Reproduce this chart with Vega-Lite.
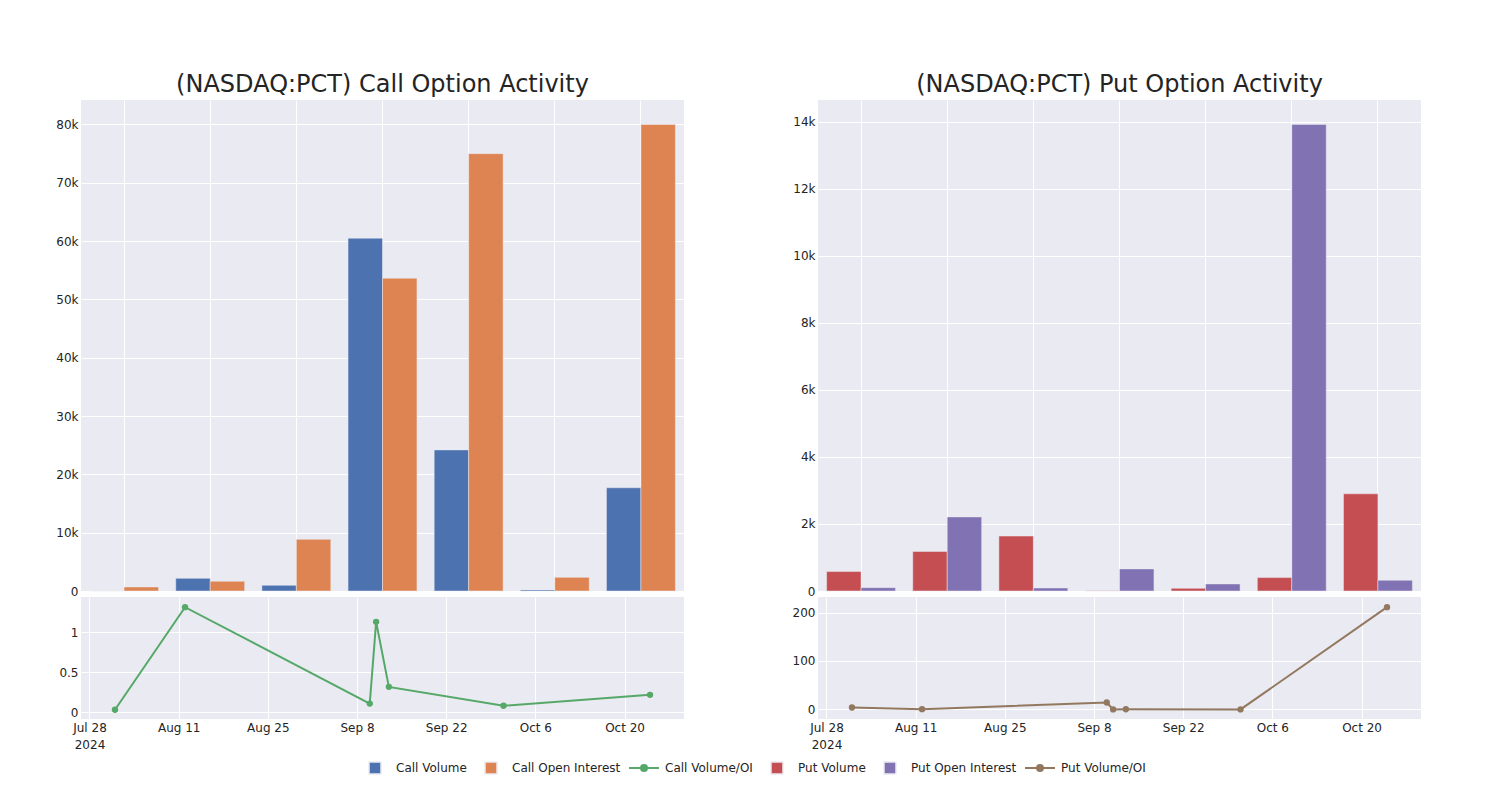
{
  "$schema": "https://vega.github.io/schema/vega-lite/v6.json",
  "background": "white",
  "padding": {"left": 55, "top": 73, "right": 10, "bottom": 10},
  "config": {
    "font": "DejaVu Sans",
    "view": {"fill": "#EAEAF2", "stroke": null},
    "axis": {"gridColor": "white", "gridWidth": 1, "gridOpacity": 1, "domain": false, "ticks": false, "labelFontSize": 12, "labelFont": "DejaVu Sans", "labelColor": "rgb(36,36,36)", "labelPadding": 3, "title": null},
    "legend": {"title": null, "orient": "none", "direction": "horizontal", "labelFontSize": 12, "labelFont": "DejaVu Sans", "labelColor": "rgb(36,36,36)", "padding": 0},
    "title": {"fontSize": 24, "font": "DejaVu Sans", "fontWeight": "normal", "color": "rgb(36,36,36)", "offset": 3, "frame": "group", "anchor": "middle"}
  },
  "datasets": {
    "callBars": [
      {"date": "2024-08-01", "series": "Call Volume", "value": 20},
      {"date": "2024-08-01", "series": "Call Open Interest", "value": 690},
      {"date": "2024-08-12", "series": "Call Volume", "value": 2170},
      {"date": "2024-08-12", "series": "Call Open Interest", "value": 1670},
      {"date": "2024-09-10", "series": "Call Volume", "value": 970},
      {"date": "2024-09-10", "series": "Call Open Interest", "value": 8860},
      {"date": "2024-09-11", "series": "Call Volume", "value": 60500},
      {"date": "2024-09-11", "series": "Call Open Interest", "value": 53650},
      {"date": "2024-09-13", "series": "Call Volume", "value": 24200},
      {"date": "2024-09-13", "series": "Call Open Interest", "value": 75000},
      {"date": "2024-10-01", "series": "Call Volume", "value": 190},
      {"date": "2024-10-01", "series": "Call Open Interest", "value": 2340},
      {"date": "2024-10-24", "series": "Call Volume", "value": 17700},
      {"date": "2024-10-24", "series": "Call Open Interest", "value": 80000}
    ],
    "putBars": [
      {"date": "2024-08-01", "series": "Put Volume", "value": 580},
      {"date": "2024-08-01", "series": "Put Open Interest", "value": 100},
      {"date": "2024-08-12", "series": "Put Volume", "value": 1180},
      {"date": "2024-08-12", "series": "Put Open Interest", "value": 2210},
      {"date": "2024-09-10", "series": "Put Volume", "value": 1640},
      {"date": "2024-09-10", "series": "Put Open Interest", "value": 90},
      {"date": "2024-09-11", "series": "Put Volume", "value": 10},
      {"date": "2024-09-11", "series": "Put Open Interest", "value": 660},
      {"date": "2024-09-13", "series": "Put Volume", "value": 80},
      {"date": "2024-09-13", "series": "Put Open Interest", "value": 210},
      {"date": "2024-10-01", "series": "Put Volume", "value": 400},
      {"date": "2024-10-01", "series": "Put Open Interest", "value": 13920},
      {"date": "2024-10-24", "series": "Put Volume", "value": 2900},
      {"date": "2024-10-24", "series": "Put Open Interest", "value": 320}
    ],
    "callRatio": [
      {"date": "2024-08-01T00:00:00", "series": "Call Volume/OI", "value": 0.033},
      {"date": "2024-08-12T00:00:00", "series": "Call Volume/OI", "value": 1.31},
      {"date": "2024-09-10T00:00:00", "series": "Call Volume/OI", "value": 0.11},
      {"date": "2024-09-11T00:00:00", "series": "Call Volume/OI", "value": 1.128},
      {"date": "2024-09-13T00:00:00", "series": "Call Volume/OI", "value": 0.318},
      {"date": "2024-10-01T00:00:00", "series": "Call Volume/OI", "value": 0.083},
      {"date": "2024-10-24T00:00:00", "series": "Call Volume/OI", "value": 0.219}
    ],
    "putRatio": [
      {"date": "2024-08-01T00:00:00", "series": "Put Volume/OI", "value": 4.1},
      {"date": "2024-08-12T00:00:00", "series": "Put Volume/OI", "value": 0.5},
      {"date": "2024-09-10T00:00:00", "series": "Put Volume/OI", "value": 14.4},
      {"date": "2024-09-11T00:00:00", "series": "Put Volume/OI", "value": 0.02},
      {"date": "2024-09-13T00:00:00", "series": "Put Volume/OI", "value": 0.4},
      {"date": "2024-10-01T00:00:00", "series": "Put Volume/OI", "value": 0.03},
      {"date": "2024-10-24T00:00:00", "series": "Put Volume/OI", "value": 211}
    ]
  },
  "columns": 2,
  "spacing": {"row": 6, "column": 134},
  "bounds": "flush",
  "resolve": {"scale": {"color": "independent", "xOffset": "independent"}, "legend": {"color": "independent"}},
  "concat": [
    {
      "title": {"text": "(NASDAQ:PCT) Call Option Activity"},
      "width": 603, "height": 491,
      "data": {"name": "callBars"},
      "mark": {"type": "bar", "stroke": "#EAEAF2", "strokeWidth": 0.5},
      "encoding": {
        "x": {"field": "date", "type": "ordinal", "scale": {"paddingInner": 0.2, "paddingOuter": 0.1}, "axis": {"labels": false, "ticks": false, "domain": false, "grid": true, "bandPosition": 0.5}},
        "xOffset": {"field": "series", "sort": ["Call Volume", "Call Open Interest"], "scale": {"paddingInner": 0, "paddingOuter": 0}},
        "y": {"field": "value", "type": "quantitative", "scale": {"domain": [0, 84200], "nice": false}, "axis": {"values": [0, 10000, 20000, 30000, 40000, 50000, 60000, 70000, 80000], "labelExpr": "datum.value == 0 ? '0' : format(datum.value, '~s')"}},
        "color": {"field": "series", "type": "nominal",
          "scale": {"domain": ["Call Volume", "Call Open Interest"], "range": ["#4C72B0", "#DD8452"]},
          "legend": {"legendX": 287, "legendY": 661, "columns": 2, "symbolSize": 144, "symbolType": "square", "labelOffset": 14, "columnPadding": 15}}
      }
    },
    {
      "title": {"text": "(NASDAQ:PCT) Put Option Activity"},
      "width": 603, "height": 491,
      "data": {"name": "putBars"},
      "mark": {"type": "bar", "stroke": "#EAEAF2", "strokeWidth": 0.5},
      "encoding": {
        "x": {"field": "date", "type": "ordinal", "scale": {"paddingInner": 0.2, "paddingOuter": 0.1}, "axis": {"labels": false, "ticks": false, "domain": false, "grid": true, "bandPosition": 0.5}},
        "xOffset": {"field": "series", "sort": ["Put Volume", "Put Open Interest"], "scale": {"paddingInner": 0, "paddingOuter": 0}},
        "y": {"field": "value", "type": "quantitative", "scale": {"domain": [0, 14650], "nice": false}, "axis": {"values": [0, 2000, 4000, 6000, 8000, 10000, 12000, 14000], "labelExpr": "datum.value == 0 ? '0' : format(datum.value, '~s')"}},
        "color": {"field": "series", "type": "nominal",
          "scale": {"domain": ["Put Volume", "Put Open Interest"], "range": ["#C44E52", "#8172B3"]},
          "legend": {"legendX": -48, "legendY": 661, "columns": 2, "symbolSize": 144, "symbolType": "square", "labelOffset": 14, "columnPadding": 15}}
      }
    },
    {
      "width": 603, "height": 122,
      "data": {"name": "callRatio"},
      "mark": {"type": "line", "strokeWidth": 2, "point": {"filled": true, "size": 40}},
      "encoding": {
        "x": {"field": "date", "type": "temporal",
          "scale": {"domain": [{"year": 2024, "month": 7, "date": 26, "hours": 16}, {"year": 2024, "month": 10, "date": 29, "hours": 8}]},
          "axis": {"values": [{"year": 2024, "month": 7, "date": 28}, {"year": 2024, "month": 8, "date": 11}, {"year": 2024, "month": 8, "date": 25}, {"year": 2024, "month": 9, "date": 8}, {"year": 2024, "month": 9, "date": 22}, {"year": 2024, "month": 10, "date": 6}, {"year": 2024, "month": 10, "date": 20}],
            "labelExpr": "datum.index == 0 ? [timeFormat(datum.value, '%b %-d'), '2024'] : timeFormat(datum.value, '%b %-d')",
            "labelFlush": false, "labelOverlap": false, "labelLineHeight": 17, "labelPadding": 3, "grid": true}},
        "y": {"field": "value", "type": "quantitative", "scale": {"domain": [-0.082, 1.437], "nice": false, "zero": false}, "axis": {"values": [0, 0.5, 1], "format": "~g"}},
        "color": {"field": "series", "type": "nominal",
          "scale": {"domain": ["Call Volume/OI"], "range": ["#55A868"]},
          "legend": {"legendX": 547, "legendY": 155, "symbolSize": 900, "symbolType": "M-1,0L1,0M0.2,0A0.2,0.2,0,1,1,-0.2,0A0.2,0.2,0,1,1,0.2,0Z", "symbolStrokeWidth": 2, "symbolFillColor": "#55A868", "symbolStrokeColor": "#55A868", "labelOffset": 5}}
      }
    },
    {
      "width": 603, "height": 122,
      "data": {"name": "putRatio"},
      "mark": {"type": "line", "strokeWidth": 2, "point": {"filled": true, "size": 40}},
      "encoding": {
        "x": {"field": "date", "type": "temporal",
          "scale": {"domain": [{"year": 2024, "month": 7, "date": 26, "hours": 16}, {"year": 2024, "month": 10, "date": 29, "hours": 8}]},
          "axis": {"values": [{"year": 2024, "month": 7, "date": 28}, {"year": 2024, "month": 8, "date": 11}, {"year": 2024, "month": 8, "date": 25}, {"year": 2024, "month": 9, "date": 8}, {"year": 2024, "month": 9, "date": 22}, {"year": 2024, "month": 10, "date": 6}, {"year": 2024, "month": 10, "date": 20}],
            "labelExpr": "datum.index == 0 ? [timeFormat(datum.value, '%b %-d'), '2024'] : timeFormat(datum.value, '%b %-d')",
            "labelFlush": false, "labelOverlap": false, "labelLineHeight": 17, "labelPadding": 3, "grid": true}},
        "y": {"field": "value", "type": "quantitative", "scale": {"domain": [-19.7, 232], "nice": false, "zero": false}, "axis": {"values": [0, 100, 200], "format": "d"}},
        "color": {"field": "series", "type": "nominal",
          "scale": {"domain": ["Put Volume/OI"], "range": ["#937860"]},
          "legend": {"legendX": 206, "legendY": 155, "symbolSize": 900, "symbolType": "M-1,0L1,0M0.2,0A0.2,0.2,0,1,1,-0.2,0A0.2,0.2,0,1,1,0.2,0Z", "symbolStrokeWidth": 2, "symbolFillColor": "#937860", "symbolStrokeColor": "#937860", "labelOffset": 5}}
      }
    }
  ]
}
